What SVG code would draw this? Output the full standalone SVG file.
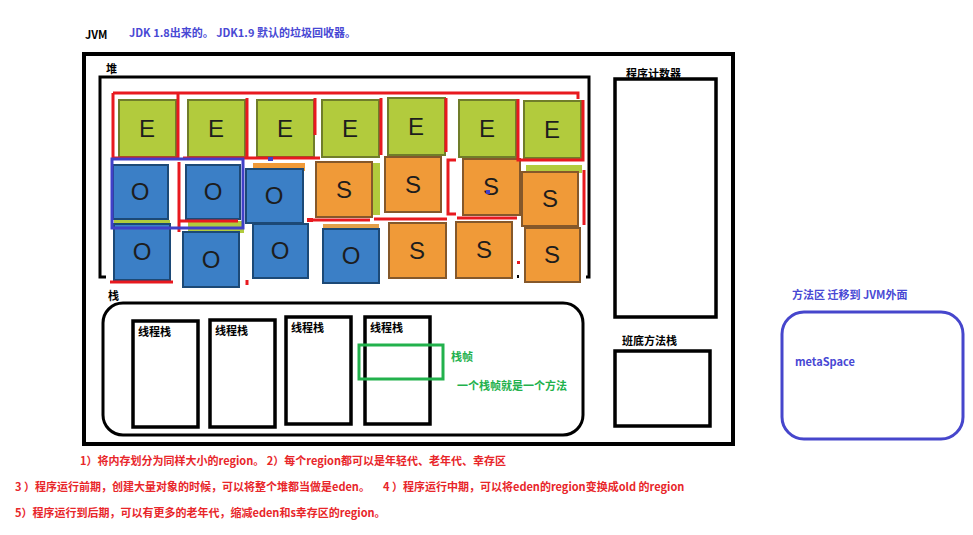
<svg xmlns="http://www.w3.org/2000/svg" width="973" height="535" viewBox="0 0 973 535">
<defs>
<style>
text{font-family:"Noto Sans CJK SC","Liberation Sans",sans-serif;font-weight:bold;font-size:11px}
.blk{fill:#000}
.blue{fill:#4848d4}
.red{fill:#e8262a}
.grn{fill:#22b14c}
.frame{fill:none;stroke:#000}
.e{fill:#b2cb3d;stroke:#6f7d2c;stroke-width:2}
.o{fill:#3a7fc6;stroke:#1e4876;stroke-width:2}
.s{fill:#f09a39;stroke:#85582a;stroke-width:2}
.lt{font-family:"Liberation Sans",sans-serif;font-weight:normal;font-size:24px;fill:#1d1d1d;text-anchor:middle}
.rl{fill:none;stroke:#e8191f;stroke-width:3}
</style>
<filter id="soft" x="-5%" y="-5%" width="110%" height="110%"><feGaussianBlur stdDeviation="0.5"/></filter>
</defs>
<rect width="973" height="535" fill="#fff"/>

<g id="header">
<text x="85" y="39" class="blk">JVM</text>
<text x="129" y="37" class="blue">JDK 1.8出来的。 JDK1.9 默认的垃圾回收器。</text>
</g>

<g id="jvm">
<rect x="84" y="54" width="649" height="390" class="frame" stroke-width="4"/>
</g>

<g id="heap">
<text x="106" y="73" class="blk">堆</text>
<path d="M106 277 H100 V77 H589 V277 H586" class="frame" stroke-width="3"/>
<g id="tiles" filter="url(#soft)">
<!-- hidden strips behind -->
<rect x="119" y="154" width="57" height="5" fill="#c98a3c"/>
<rect x="188" y="154" width="57" height="5" fill="#c98a3c"/>
<rect x="257" y="154" width="57" height="5" fill="#c98a3c"/>
<rect x="524" y="155" width="57" height="5" fill="#c98a3c"/>
<rect x="253" y="163" width="52" height="8" fill="#f09a39"/>
<rect x="114" y="220" width="56" height="6" fill="#b2cb3d"/>
<rect x="188" y="221" width="56" height="12" fill="#b2cb3d"/>
<rect x="323" y="224" width="56" height="8" fill="#e3a04a"/>
<rect x="526" y="165" width="56" height="8" fill="#b2cb3d"/>
<rect x="372" y="163" width="8" height="52" fill="#b2cb3d"/>
<!-- row 1 -->
<rect x="119" y="100" width="57" height="57" class="e"/>
<rect x="188" y="100" width="57" height="57" class="e"/>
<rect x="257" y="100" width="57" height="57" class="e"/>
<rect x="322" y="100" width="57" height="57" class="e"/>
<rect x="388" y="98" width="57" height="57" class="e"/>
<rect x="459" y="100" width="57" height="57" class="e"/>
<rect x="524" y="101" width="57" height="57" class="e"/>
<!-- row 3 -->
<rect x="114" y="224" width="56" height="56" class="o"/>
<rect x="183" y="232" width="56" height="55" class="o"/>
<rect x="253" y="224" width="55" height="54" class="o"/>
<rect x="323" y="229" width="56" height="54" class="o"/>
<rect x="389" y="223" width="57" height="55" class="s"/>
<rect x="456" y="222" width="56" height="56" class="s"/>
<rect x="525" y="228" width="55" height="54" class="s"/>
<!-- row 2 -->
<rect x="113" y="165" width="55" height="54" class="o"/>
<rect x="186" y="165" width="54" height="54" class="o"/>
<rect x="246" y="169" width="57" height="54" class="o"/>
<rect x="316" y="162" width="56" height="55" class="s"/>
<rect x="385" y="157" width="56" height="55" class="s"/>
<rect x="463" y="159" width="57" height="56" class="s"/>
<rect x="522" y="172" width="56" height="54" class="s"/>
</g>
<g id="tile-letters">
<text x="147" y="137" class="lt">E</text>
<text x="216" y="137" class="lt">E</text>
<text x="285" y="137" class="lt">E</text>
<text x="350" y="137" class="lt">E</text>
<text x="416" y="135" class="lt">E</text>
<text x="487" y="137" class="lt">E</text>
<text x="552" y="138" class="lt">E</text>
<text x="140" y="200" class="lt">O</text>
<text x="213" y="200" class="lt">O</text>
<text x="274" y="204" class="lt">O</text>
<text x="344" y="198" class="lt">S</text>
<text x="413" y="193" class="lt">S</text>
<text x="491" y="195" class="lt">S</text>
<text x="550" y="207" class="lt">S</text>
<text x="142" y="260" class="lt">O</text>
<text x="211" y="268" class="lt">O</text>
<text x="280" y="259" class="lt">O</text>
<text x="351" y="264" class="lt">O</text>
<text x="417" y="259" class="lt">S</text>
<text x="484" y="258" class="lt">S</text>
<text x="552" y="263" class="lt">S</text>
</g>
<g id="heap-marks">
<path class="rl" d="M113 93 H578 V99"/>
<path class="rl" d="M113 93 V158 H178"/>
<path class="rl" d="M178 93 V158"/>
<path class="rl" d="M183 158 H320"/>
<path class="rl" d="M179 162 V232"/>
<path class="rl" d="M180 221 H238"/>
<path class="rl" d="M247 98 V158"/>
<path class="rl" d="M315 98 V135"/>
<path class="rl" d="M381 98 V155"/>
<path class="rl" d="M446 98 V152"/>
<path class="rl" d="M518 99 V160 H583 V100"/>
<path class="rl" d="M456 160 H448 V214 H456"/>
<path class="rl" d="M457 218 H517"/>
<path class="rl" d="M313 220 H370"/>
<path class="rl" d="M374 219 H447"/>
<path class="rl" d="M584 170 V225"/>
<path class="rl" d="M110 282 H173"/>
<path class="rl" d="M247 280 V285"/>
<rect x="307" y="218" width="6" height="4" fill="#e8191f"/>
<rect x="517" y="261" width="3" height="3" fill="#e8191f"/>
<rect x="517" y="275" width="2" height="3" fill="#000"/>
<rect x="112" y="159" width="131" height="69" fill="none" stroke="#4040c8" stroke-width="3"/>
<rect x="268" y="157" width="5" height="4" fill="#4040c8"/>
<rect x="486" y="190" width="4" height="4" fill="#4040c8"/>
</g>
</g>

<g id="stack">
<text x="108" y="300" class="blk">栈</text>
<rect x="103" y="303" width="480" height="132" rx="20" class="frame" stroke-width="3"/>
</g>
<g id="thread-stack-1">
<rect x="133" y="321" width="65" height="106" class="frame" stroke-width="3.5"/>
<text x="138" y="336" class="blk">线程栈</text>
</g>
<g id="thread-stack-2">
<rect x="210" y="320" width="65" height="107" class="frame" stroke-width="3.5"/>
<text x="215" y="335" class="blk">线程栈</text>
</g>
<g id="thread-stack-3">
<rect x="286" y="317" width="65" height="107" class="frame" stroke-width="3.5"/>
<text x="291" y="332" class="blk">线程栈</text>
</g>
<g id="thread-stack-4">
<rect x="365" y="317" width="65" height="107" class="frame" stroke-width="3.5"/>
<text x="370" y="332" class="blk">线程栈</text>
</g>
<g id="stack-frame">
<rect x="359" y="345" width="84" height="34" fill="none" stroke="#22b14c" stroke-width="3"/>
<text x="451" y="361" class="grn">栈帧</text>
<text x="457" y="390" class="grn">一个栈帧就是一个方法</text>
</g>

<g id="pc-register">
<rect x="615" y="79" width="101" height="238" class="frame" stroke-width="3.5"/>
<text x="626" y="78" class="blk">程序计数器</text>
</g>
<g id="native-stack">
<text x="622" y="345" class="blk">班底方法栈</text>
<rect x="615" y="351" width="95" height="75" class="frame" stroke-width="3.5"/>
</g>

<g id="metaspace">
<text x="792" y="299" class="blue">方法区 迁移到 JVM外面</text>
<rect x="782" y="312" width="181" height="127" rx="22" fill="none" stroke="#4646cc" stroke-width="3"/>
<text x="795" y="366" class="blue">metaSpace</text>
</g>

<g id="connectors"></g>

<g id="notes">
<text x="80" y="465" class="red">1）将内存划分为同样大小的region。 2）每个region都可以是年轻代、老年代、幸存区</text>
<text x="15" y="491" class="red">3 ）程序运行前期，创建大量对象的时候，可以将整个堆都当做是eden。</text>
<text x="383" y="491" class="red">4 ）程序运行中期，可以将eden的region变换成old 的region</text>
<text x="15" y="517" class="red">5）程序运行到后期，可以有更多的老年代，缩减eden和s幸存区的region。</text>
</g>
</svg>
